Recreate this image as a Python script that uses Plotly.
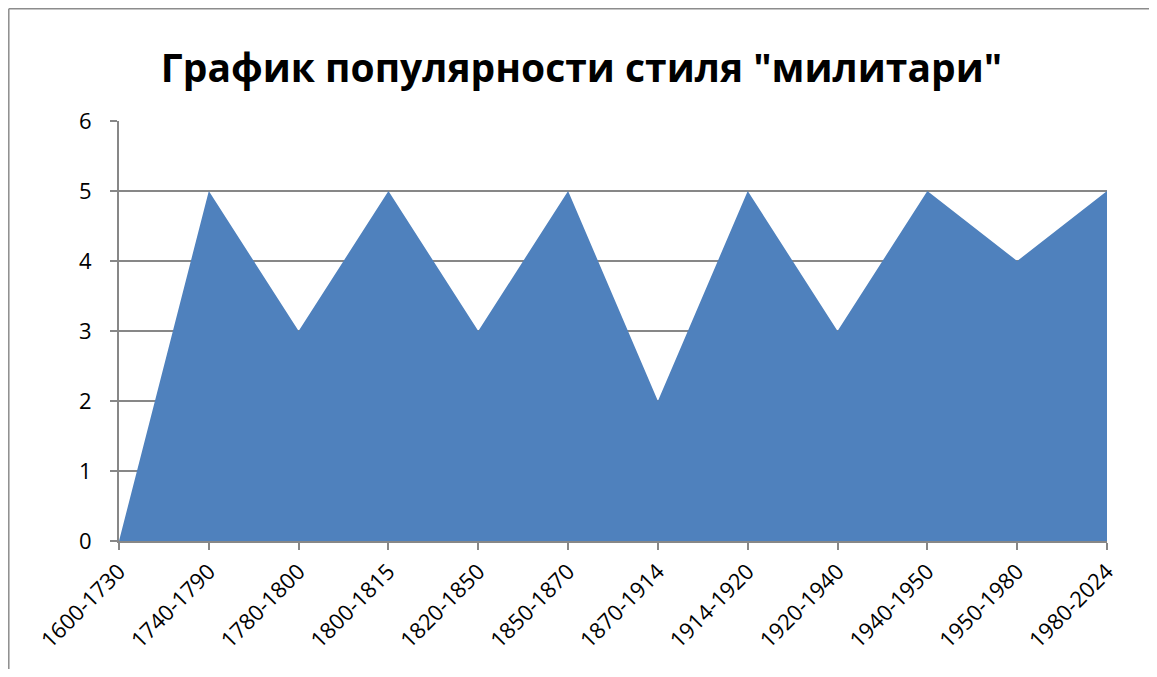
import plotly.graph_objects as go

categories = ["1600-1730", "1740-1790", "1780-1800", "1800-1815", "1820-1850", "1850-1870",
              "1870-1914", "1914-1920", "1920-1940", "1940-1950", "1950-1980", "1980-2024"]
values = [0, 5, 3, 5, 3, 5, 2, 5, 3, 5, 4, 5]
title_text = 'График популярности стиля "милитари"'

# page has an 8px body margin, so the figure is drawn 8px smaller on each side
OFF = 8
W, H = 1157 - 2 * OFF, 677 - 2 * OFF
L, R, T, B = 119 - OFF, 1107 - OFF, 121 - OFF, 541 - OFF
pw, ph = R - L, B - T

fig = go.Figure()
fig.add_trace(go.Scatter(
    x=categories, y=values, mode="lines", fill="tozeroy",
    line=dict(color="#4F81BD", width=0), fillcolor="#4F81BD",
    hoverinfo="x+y", showlegend=False,
))

grid = "#878787"
fig.update_layout(
    width=W, height=H,
    margin=dict(l=L, r=W - R, t=T, b=H - B),
    paper_bgcolor="white", plot_bgcolor="white",
    title=dict(text="<b>" + title_text + "</b>", x=(581.5 - OFF) / W, xanchor="center",
               xref="container", y=1 - (68 - OFF) / H, yanchor="middle", yref="container",
               font=dict(family="Open Sans", size=39, color="black")),
    font=dict(family="Open Sans", color="black"),
    xaxis=dict(type="category", range=[0, len(categories) - 1], showgrid=False,
               showline=True, linecolor=grid, linewidth=2, ticks="outside",
               ticklen=7, tickcolor=grid, tickwidth=2, tickangle=-45,
               tickfont=dict(size=22, family="Open Sans"), zeroline=False),
    yaxis=dict(range=[0, 6], dtick=1, showgrid=True, gridcolor=grid, gridwidth=1.5,
               showline=True, linecolor=grid, linewidth=2, ticks="outside",
               ticklen=7, tickcolor=grid, tickwidth=2, zeroline=False,
               tickfont=dict(size=22, family="Open Sans"), ticklabelstandoff=14),
)

# outer chart frame (left and top edges visible)
fx = (0.8 - L) / pw
fy = 1 + (T - 0.8) / ph
fig.add_shape(type="line", xref="paper", yref="paper", x0=fx, x1=fx, y0=fy, y1=-1,
              line=dict(color="#8c8c8c", width=1.5))
fig.add_shape(type="line", xref="paper", yref="paper", x0=fx, x1=2, y0=fy, y1=fy,
              line=dict(color="#8c8c8c", width=1.5))

fig.write_html("out.html")
